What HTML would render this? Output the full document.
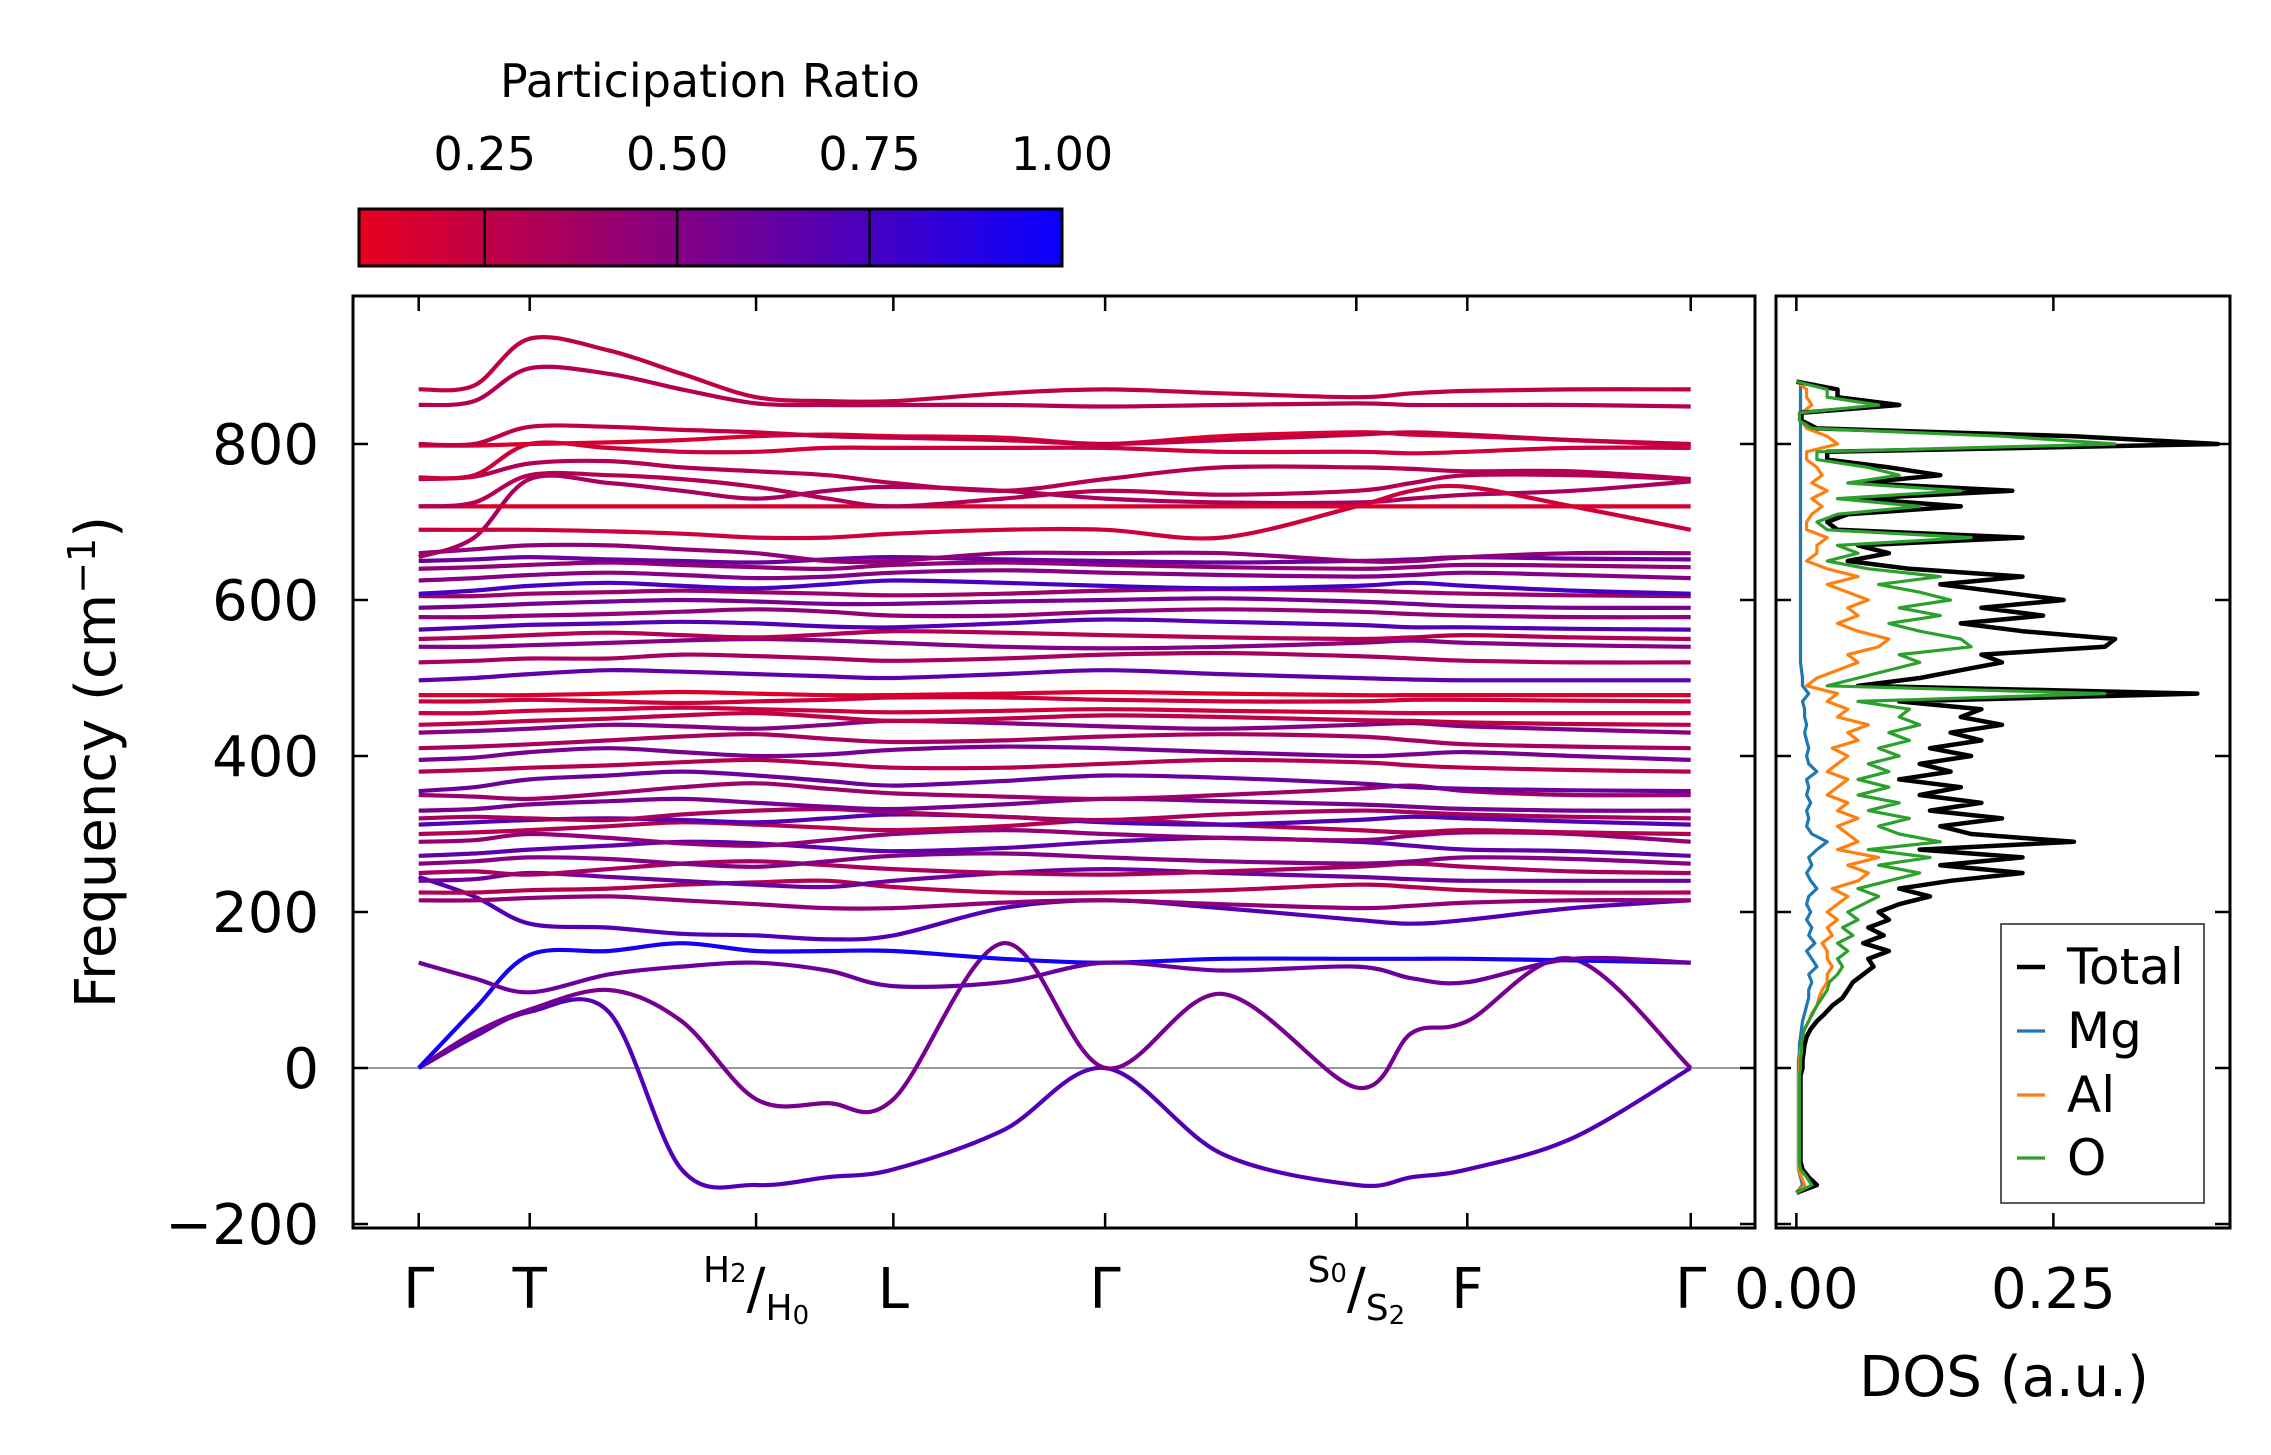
<!DOCTYPE html>
<html><head><meta charset="utf-8">
<style>
html,body{margin:0;padding:0;background:#fff;}
svg{display:block;font-family:"DejaVu Sans","Liberation Sans",sans-serif;}
</style></head>
<body>
<svg id="chart" width="2271" height="1455" viewBox="0 0 2271 1455" xmlns="http://www.w3.org/2000/svg">
<defs>
<linearGradient id="cmap" x1="0" x2="1" y1="0" y2="0">
<stop offset="0" stop-color="rgb(232,0,30)"/>
<stop offset="0.5" stop-color="rgb(121,0,142)"/>
<stop offset="1" stop-color="rgb(10,0,255)"/>
</linearGradient>
<clipPath id="clipMain"><rect x="353" y="296" width="1402" height="932"/></clipPath>
<clipPath id="clipDos"><rect x="1776" y="296" width="454" height="932"/></clipPath>
</defs>
<g id="colorbar">
<text x="710" y="97" font-size="46" text-anchor="middle">Participation Ratio</text>
<rect x="359" y="209" width="703" height="57" fill="url(#cmap)" stroke="#000" stroke-width="3"/>
</g>
<g id="bands" clip-path="url(#clipMain)"></g>
<g id="dos" clip-path="url(#clipDos)"></g>
<g id="axes"></g>
</svg>
<script>
const kPoints = [0,0.38,0.76,1.3,1.8,2.31,2.8,3.25,4.0,4.70,5.5,6.42,6.8,7.18,7.9,8.71];
const kTickPos = [0,0.76,2.31,3.25,4.70,6.42,7.18,8.71];
const kTickLabels = ["Γ","T","H","L","Γ","S","F","Γ"];
const yTicks = [-200,0,200,400,600,800];
const cbTicks = [0.25,0.50,0.75,1.00];
const cbTickLabels = ["0.25","0.50","0.75","1.00"];
const band01 = [0,40,72,72,-130,-150,-140,-130,-80,0,-110,-150,-140,-130,-90,0];
const band02 = [0,45,75,100,60,-40,-45,-40,160,0,95,-25,45,60,140,0];
const band03 = [0,75,145,150,160,150,150,150,140,135,140,140,140,140,138,135];
const band04 = [135,115,97,120,130,135,125,105,110,135,125,130,115,110,140,135];
const band05 = [245,220,185,180,172,170,165,170,205,215,205,190,185,190,205,215];
const band06 = [215,215,218,220,215,210,205,205,212,215,210,205,208,212,215,215];
const band07 = [225,225,228,230,235,238,240,232,225,225,228,235,232,228,225,225];
const band08 = [240,242,250,245,240,235,232,240,250,255,250,245,242,240,240,240];
const band09 = [250,252,248,255,262,265,260,255,250,248,252,258,262,258,252,250];
const band10 = [262,265,270,268,262,258,265,272,275,270,265,262,265,270,268,262];
const band11 = [272,275,280,285,290,288,282,278,282,290,295,290,285,280,278,272];
const band12 = [290,292,300,295,288,285,292,300,305,300,295,292,298,302,300,290];
const band13 = [300,302,305,310,315,312,308,305,310,318,312,305,302,305,302,300];
const band14 = [312,315,318,320,318,315,320,325,322,315,312,318,322,320,316,312];
const band15 = [320,322,320,318,325,330,332,328,322,318,325,330,328,325,322,320];
const band16 = [330,332,338,342,345,340,335,332,338,345,342,338,335,332,330,330];
const band17 = [350,348,345,352,360,365,358,352,348,345,350,358,362,355,350,350];
const band18 = [355,360,370,375,380,375,368,362,368,375,372,365,360,358,356,355];
const band19 = [380,382,385,388,392,395,390,385,385,390,395,392,388,385,382,380];
const band20 = [395,398,405,410,405,400,402,408,412,410,405,400,402,405,400,395];
const band21 = [410,412,415,420,425,428,422,418,420,425,428,425,420,415,412,410];
const band22 = [430,432,435,440,438,435,440,445,442,438,435,440,442,438,434,430];
const band23 = [440,442,445,448,452,455,450,445,448,452,450,446,445,443,441,440];
const band24 = [455,455,458,460,462,460,458,456,458,460,458,456,455,455,455,455];
const band25 = [470,470,472,470,468,470,472,475,475,472,470,470,472,472,471,470];
const band26 = [478,478,478,480,482,480,478,478,480,482,480,478,478,478,478,478];
const band27 = [497,500,505,510,508,505,502,500,505,510,505,500,498,497,497,497];
const band28 = [520,522,525,525,530,528,525,522,525,530,532,528,525,522,520,520];
const band29 = [540,540,542,545,548,550,548,545,540,538,540,545,548,545,542,540];
const band30 = [550,552,555,558,555,552,556,560,558,555,552,550,552,555,552,550];
const band31 = [562,565,568,570,572,570,566,565,570,575,572,568,565,565,563,562];
const band32 = [578,578,580,582,585,588,585,580,580,585,588,585,582,580,578,578];
const band33 = [590,592,595,598,600,598,595,595,598,600,602,598,595,592,590,590];
const band34 = [605,605,608,610,612,610,608,606,608,612,614,612,610,608,606,605];
const band35 = [608,612,618,622,618,615,620,625,622,618,615,618,622,618,612,608];
const band36 = [625,628,632,635,632,628,630,635,638,635,632,630,632,635,632,628];
const band37 = [640,642,645,648,645,642,640,645,648,645,642,640,642,645,644,642];
const band38 = [650,652,655,652,650,648,652,655,652,650,648,650,652,655,653,652];
const band39 = [660,665,670,670,665,660,650,650,660,660,660,650,650,655,660,660];
const band40 = [655,680,755,750,740,730,740,745,740,730,725,725,730,735,740,752];
const band41 = [690,690,690,688,685,680,680,685,690,690,680,720,740,745,720,690];
const band42 = [720,720,720,720,720,720,720,720,720,720,720,720,720,720,720,720];
const band43 = [720,725,760,760,755,745,730,720,730,740,735,740,750,760,760,755];
const band44 = [755,758,775,778,770,765,760,750,740,755,770,770,768,765,765,755];
const band45 = [757,760,800,795,790,790,795,795,795,795,790,790,788,790,795,795];
const band46 = [798,798,800,802,805,810,812,810,808,800,810,815,812,810,805,798];
const band47 = [800,800,822,822,818,815,810,808,805,800,805,812,815,812,805,800];
const band48 = [850,855,897,890,870,852,850,850,850,848,850,852,850,850,850,848];
const band49 = [870,875,935,920,890,860,855,855,865,870,865,860,865,868,870,870];
const bands = [band01,band02,band03,band04,band05,band06,band07,band08,band09,band10,band11,band12,band13,band14,band15,band16,band17,band18,band19,band20,band21,band22,band23,band24,band25,band26,band27,band28,band29,band30,band31,band32,band33,band34,band35,band36,band37,band38,band39,band40,band41,band42,band43,band44,band45,band46,band47,band48,band49];
const participation = [0.7,0.55,0.95,0.6,0.7,0.45,0.3,0.6,0.35,0.5,0.65,0.45,0.3,0.7,0.35,0.55,0.4,0.6,0.3,0.55,0.35,0.5,0.25,0.2,0.2,0.15,0.65,0.35,0.5,0.3,0.7,0.45,0.55,0.4,0.75,0.5,0.45,0.6,0.45,0.35,0.2,0.15,0.3,0.3,0.2,0.15,0.25,0.3,0.25];

const dosFreqStart = -160, dosFreqStep = 10;
const dosTotal = [0,0.02,0.012,0.006,0.004,0.004,0.004,0.004,0.004,0.004,0.004,0.004,0.004,0.004,0.004,0.004,
0.006,0.006,0.007,0.008,0.01,0.014,0.02,0.028,0.035,0.045,0.05,0.055,0.065,0.075,0.07,0.09,0.065,0.085,0.07,0.09,
0.08,0.1,0.13,0.1,0.15,0.22,0.14,0.22,0.12,0.27,0.17,0.14,0.2,0.13,0.18,0.12,0.16,0.1,0.15,0.12,
0.17,0.13,0.18,0.15,0.2,0.16,0.18,0.1,0.39,0.06,0.12,0.16,0.2,0.18,0.3,0.31,0.22,0.16,0.24,0.18,
0.26,0.2,0.14,0.22,0.11,0.05,0.09,0.06,0.22,0.04,0.03,0.05,0.16,0.06,0.21,0.06,0.14,0.09,0.03,0.03,
0.41,0.27,0.02,0.005,0.005,0.1,0.04,0.04,0];
const dosO = [0,0.015,0.01,0.004,0.003,0.003,0.003,0.003,0.003,0.003,0.003,0.003,0.003,0.003,0.003,0.003,
0.004,0.004,0.005,0.005,0.006,0.008,0.012,0.016,0.02,0.025,0.03,0.032,0.04,0.045,0.04,0.05,0.04,0.055,0.045,0.06,
0.05,0.065,0.08,0.06,0.09,0.12,0.08,0.13,0.07,0.14,0.1,0.08,0.11,0.07,0.1,0.06,0.09,0.06,0.09,0.07,
0.1,0.08,0.11,0.09,0.12,0.1,0.11,0.06,0.3,0.03,0.06,0.09,0.12,0.1,0.17,0.16,0.12,0.09,0.14,0.1,
0.15,0.12,0.08,0.14,0.07,0.03,0.06,0.04,0.17,0.03,0.02,0.04,0.12,0.04,0.16,0.05,0.1,0.07,0.02,0.02,
0.31,0.2,0.015,0.003,0.003,0.08,0.03,0.03,0];
const dosAl = [0,0.008,0.005,0.002,0.002,0.002,0.002,0.002,0.002,0.002,0.002,0.002,0.002,0.002,0.002,0.002,
0.003,0.003,0.004,0.005,0.006,0.008,0.012,0.015,0.02,0.022,0.025,0.03,0.03,0.035,0.03,0.03,0.025,0.035,0.03,0.04,
0.03,0.04,0.05,0.035,0.06,0.07,0.05,0.08,0.04,0.06,0.05,0.04,0.06,0.04,0.05,0.03,0.04,0.05,0.03,0.04,
0.05,0.035,0.06,0.05,0.07,0.04,0.05,0.03,0.04,0.01,0.02,0.04,0.06,0.05,0.08,0.09,0.06,0.04,0.06,0.05,
0.07,0.05,0.03,0.06,0.03,0.01,0.02,0.02,0.03,0.01,0.01,0.015,0.025,0.015,0.03,0.015,0.025,0.02,0.01,0.01,
0.04,0.03,0.01,0.005,0.005,0.015,0.01,0.01,0];
const dosMg = [0,0.006,0.004,0.002,0.002,0.002,0.002,0.002,0.002,0.002,0.002,0.002,0.002,0.002,0.002,0.002,
0.002,0.002,0.003,0.003,0.004,0.005,0.006,0.008,0.01,0.012,0.012,0.015,0.012,0.02,0.015,0.01,0.018,0.012,0.015,0.01,
0.014,0.01,0.012,0.02,0.014,0.01,0.015,0.012,0.02,0.03,0.015,0.01,0.012,0.01,0.014,0.01,0.012,0.01,0.02,0.012,
0.01,0.012,0.01,0.008,0.01,0.008,0.008,0.006,0.012,0.006,0.006,0.005,0.004,0.004,0.004,0.004,0.004,0.004,0.004,0.004,
0.004,0.004,0.004,0.004,0.004,0.004,0.004,0.004,0.004,0.004,0.004,0.004,0.004,0.004,0.004,0.004,0.004,0.004,0.004,0.004,
0.004,0.004,0.004,0.004,0.004,0.004,0.004,0.004,0.004];

const NS = "http://www.w3.org/2000/svg";
const svg = document.getElementById('chart');
const kMin=-0.45, kMax=9.15, fMin=-205.1, fMax=989.7;
const X0=353, X1=1755, Y0=296, Y1=1228;
function xk(k){return X0+(k-kMin)/(kMax-kMin)*(X1-X0);}
function yf(f){return Y1-(f-fMin)/(fMax-fMin)*(Y1-Y0);}
const DX0=1776, DX1=2230, dMin=-0.0198, dMax=0.4218;
function xd(v){return DX0+(v-dMin)/(dMax-dMin)*(DX1-DX0);}
const CB0=359, CB1=1062, cbMin=0.0866, cbMax=1.0;
function xcb(v){return CB0+(v-cbMin)/(cbMax-cbMin)*(CB1-CB0);}
function prColor(p){
  const t=Math.max(0,Math.min(1,(p-cbMin)/(cbMax-cbMin)));
  const r=Math.round(232+(10-232)*t), b=Math.round(30+(255-30)*t);
  return 'rgb('+r+',0,'+b+')';
}
function el(tag,attrs,parent){const e=document.createElementNS(NS,tag);for(const a in attrs)e.setAttribute(a,attrs[a]);(parent||svg).appendChild(e);return e;}
function smoothPath(pts){
  let d='M'+pts[0][0]+','+pts[0][1];
  for(let i=0;i<pts.length-1;i++){
    const p0=pts[Math.max(0,i-1)],p1=pts[i],p2=pts[i+1],p3=pts[Math.min(pts.length-1,i+2)];
    const c1=[p1[0]+(p2[0]-p0[0])/6,p1[1]+(p2[1]-p0[1])/6];
    const c2=[p2[0]-(p3[0]-p1[0])/6,p2[1]-(p3[1]-p1[1])/6];
    d+=' C'+c1[0].toFixed(1)+','+c1[1].toFixed(1)+' '+c2[0].toFixed(1)+','+c2[1].toFixed(1)+' '+p2[0].toFixed(1)+','+p2[1].toFixed(1);
  }
  return d;
}
const bandG=document.getElementById('bands');
const zl=el('line',{x1:X0,x2:X1,y1:yf(0),y2:yf(0),stroke:'#999','stroke-width':2},bandG);


bands.forEach(function(b,i){
  const pts=b.map(function(f,j){return [xk(kPoints[j]),yf(f)];});
  const p=el('path',{d:smoothPath(pts),fill:'none',stroke:prColor(participation[i]),'stroke-width':4.2,'stroke-linejoin':'round'},bandG);
  
  
});
const dosG=document.getElementById('dos');
const series=[[dosMg,'#1f77b4','dos-mg'],[dosAl,'#ff7f0e','dos-al'],[dosTotal,'#000000','dos-total'],[dosO,'#2ca02c','dos-o']];
series.forEach(function(s){
  const pts=s[0].map(function(v,j){return xd(v).toFixed(1)+','+yf(dosFreqStart+j*dosFreqStep).toFixed(1);}).join(' ');
  const pl=el('polyline',{points:pts,fill:'none',stroke:s[1],'stroke-width':s[2]==='dos-total'?4.5:3.2,'stroke-linejoin':'round'},dosG);
  
  
});
const ax=document.getElementById('axes');
const f1=el('rect',{x:X0,y:Y0,width:X1-X0,height:Y1-Y0,fill:'none',stroke:'#000','stroke-width':3},ax);


const f2=el('rect',{x:DX0,y:Y0,width:DX1-DX0,height:Y1-Y0,fill:'none',stroke:'#000','stroke-width':3},ax);


const TL=15;
yTicks.forEach(function(v){
  const y=yf(v);
  el('line',{x1:X0,x2:X0+TL,y1:y,y2:y,stroke:'#000','stroke-width':2.5},ax);
  el('line',{x1:X1,x2:X1-TL,y1:y,y2:y,stroke:'#000','stroke-width':2.5},ax);
  el('line',{x1:DX0,x2:DX0+TL,y1:y,y2:y,stroke:'#000','stroke-width':2.5},ax);
  el('line',{x1:DX1,x2:DX1-TL,y1:y,y2:y,stroke:'#000','stroke-width':2.5},ax);
  const t=el('text',{x:X0-34,y:y+20,'font-size':56,'text-anchor':'end'},ax);
  t.textContent=(v<0?'\u2212'+Math.abs(v):String(v));
  
  
});
kTickPos.forEach(function(k,i){
  const x=xk(k);
  el('line',{x1:x,x2:x,y1:Y1,y2:Y1-TL,stroke:'#000','stroke-width':2.5},ax);
  el('line',{x1:x,x2:x,y1:Y0,y2:Y0+TL,stroke:'#000','stroke-width':2.5},ax);
  let t;
  if(i===2||i===5){
    const a=i===2?['H','2','H','0']:['S','0','S','2'];
    t=el('text',{x:x,y:1308,'font-size':56,'text-anchor':'middle'},ax);
    t.innerHTML='<tspan font-size="36" dy="-26">'+a[0]+'</tspan><tspan font-size="26">'+a[1]+'</tspan><tspan font-size="56" dy="26">/</tspan><tspan font-size="36" dy="12">'+a[2]+'</tspan><tspan font-size="26" dy="4">'+a[3]+'</tspan>';
  } else {
    t=el('text',{x:x,y:1308,'font-size':56,'text-anchor':'middle'},ax);
    t.textContent=kTickLabels[i];
  }
  
  
});
[[0,'0.00'],[0.25,'0.25']].forEach(function(d){
  const x=xd(d[0]);
  el('line',{x1:x,x2:x,y1:Y1,y2:Y1-TL,stroke:'#000','stroke-width':2.5},ax);
  el('line',{x1:x,x2:x,y1:Y0,y2:Y0+TL,stroke:'#000','stroke-width':2.5},ax);
  const t=el('text',{x:x,y:1308,'font-size':56,'text-anchor':'middle'},ax);
  t.textContent=d[1];
  
  
});
cbTicks.forEach(function(v,i){
  const x=xcb(v);
  el('line',{x1:x,x2:x,y1:209,y2:266,stroke:'#000','stroke-width':2.5},ax);
  const t=el('text',{x:x,y:170,'font-size':46,'text-anchor':'middle'},ax);
  t.textContent=cbTickLabels[i];
  
  
});
const yt=el('text',{x:0,y:0,'font-size':56,'text-anchor':'middle',transform:'translate(115,762) rotate(-90)'},ax);
yt.innerHTML='Frequency (cm<tspan dy="-20" font-size="38">\u22121</tspan><tspan dy="20">)</tspan>';


const xt=el('text',{x:2004,y:1396,'font-size':56,'text-anchor':'middle'},ax);
xt.textContent='DOS (a.u.)';


const lg=el('g',{},ax);


el('rect',{x:2001,y:924,width:203,height:279,fill:'#fff',stroke:'#222','stroke-width':1.5},lg);
const legNames=['Total','Mg','Al','O'], legColors=['#000','#1f77b4','#ff7f0e','#2ca02c'], legY=[967,1031,1095,1158];
legNames.forEach(function(n,i){
  el('line',{x1:2017,x2:2045,y1:legY[i],y2:legY[i],stroke:legColors[i],'stroke-width':i===0?4.5:3.2},lg);
  const t=el('text',{x:2067,y:legY[i]+17,'font-size':50},lg);
  t.textContent=n;
  
  
});
</script>
</body></html>
